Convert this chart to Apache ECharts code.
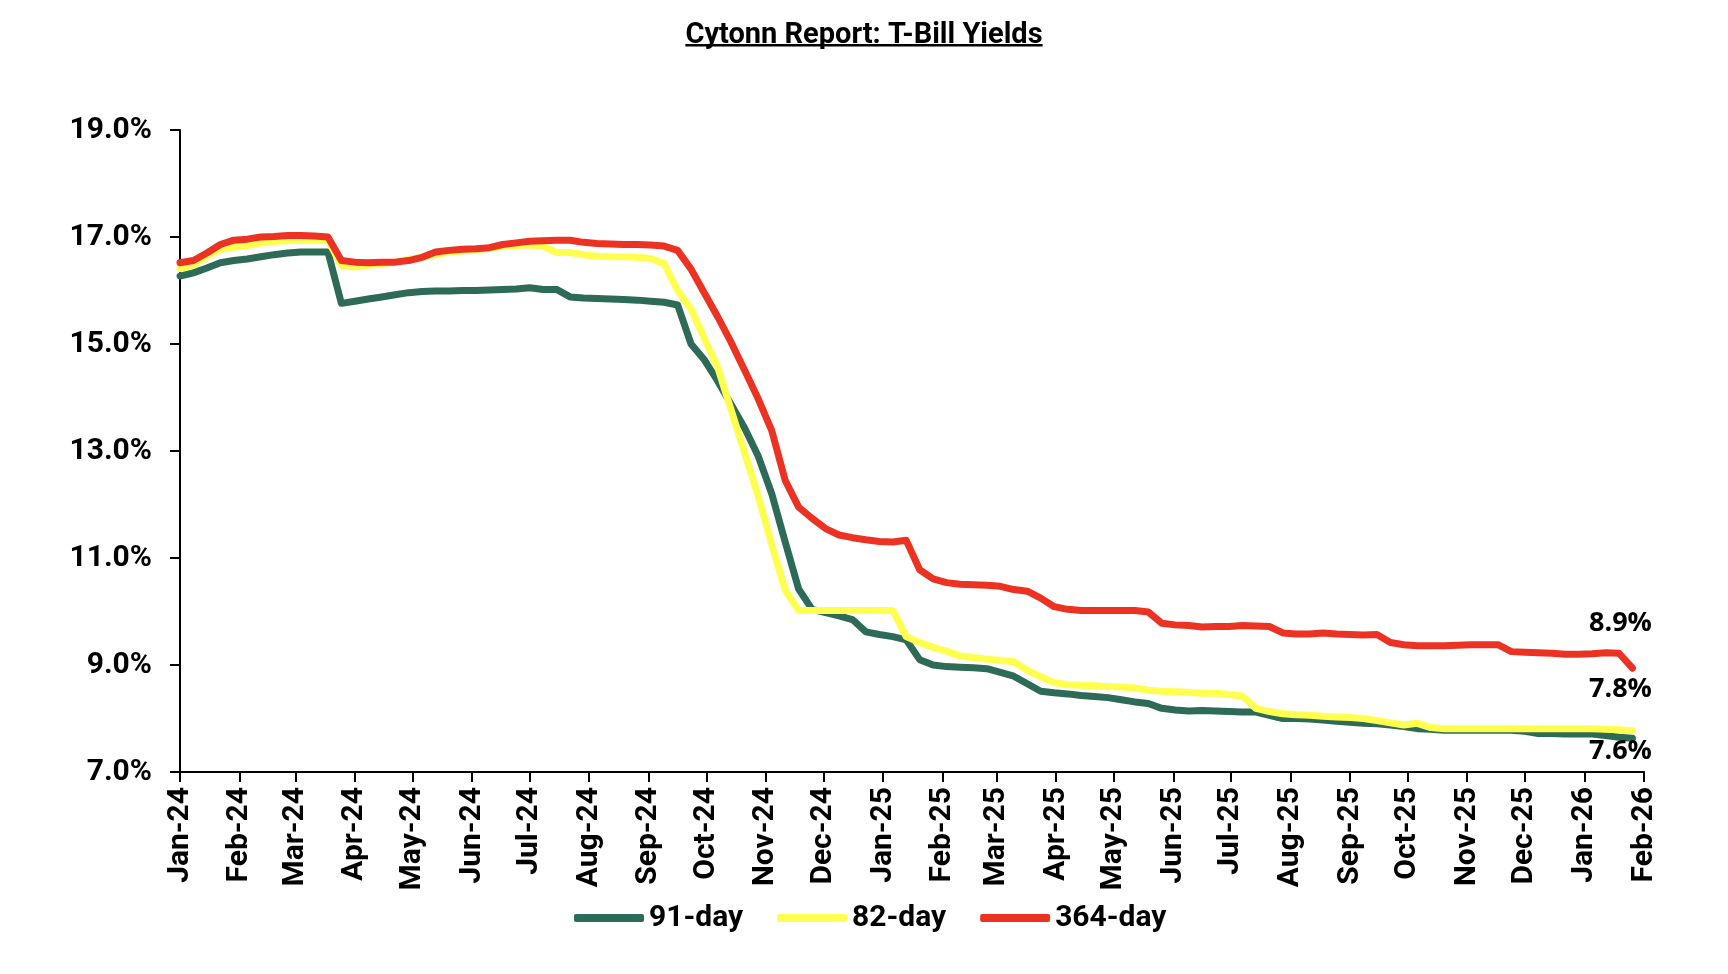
<!DOCTYPE html>
<html>
<head>
<meta charset="utf-8">
<script src="https://cdn.jsdelivr.net/npm/echarts@6/dist/echarts.min.js"></script>
<style>
html, body { margin: 0; padding: 0; background: #ffffff; }
#chart { width: 1728px; height: 974px; }
</style>
</head>
<body>
<div id="chart"></div>
<script>
// ---- Data (weekly auction results) ----
const dates = [
  '2024-01-01','2024-01-08','2024-01-15','2024-01-22','2024-01-29',
  '2024-02-05','2024-02-12','2024-02-19','2024-02-26',
  '2024-03-04','2024-03-11','2024-03-18','2024-03-25',
  '2024-04-01','2024-04-08','2024-04-15','2024-04-22','2024-04-29',
  '2024-05-06','2024-05-13','2024-05-20','2024-05-27',
  '2024-06-03','2024-06-10','2024-06-17','2024-06-24',
  '2024-07-01','2024-07-08','2024-07-15','2024-07-22','2024-07-29',
  '2024-08-05','2024-08-12','2024-08-19','2024-08-26',
  '2024-09-02','2024-09-09','2024-09-16','2024-09-23','2024-09-30',
  '2024-10-07','2024-10-14','2024-10-21','2024-10-28',
  '2024-11-04','2024-11-11','2024-11-18','2024-11-25',
  '2024-12-02','2024-12-09','2024-12-16','2024-12-23','2024-12-30',
  '2025-01-06','2025-01-13','2025-01-20','2025-01-27',
  '2025-02-03','2025-02-10','2025-02-17','2025-02-24',
  '2025-03-03','2025-03-10','2025-03-17','2025-03-24','2025-03-31',
  '2025-04-07','2025-04-14','2025-04-21','2025-04-28',
  '2025-05-05','2025-05-12','2025-05-19','2025-05-26',
  '2025-06-02','2025-06-09','2025-06-16','2025-06-23','2025-06-30',
  '2025-07-07','2025-07-14','2025-07-21','2025-07-28',
  '2025-08-04','2025-08-11','2025-08-18','2025-08-25',
  '2025-09-01','2025-09-08','2025-09-15','2025-09-22','2025-09-29',
  '2025-10-06','2025-10-13','2025-10-20','2025-10-27',
  '2025-11-03','2025-11-10','2025-11-17','2025-11-24',
  '2025-12-01','2025-12-08','2025-12-15','2025-12-22','2025-12-29',
  '2026-01-05','2026-01-12','2026-01-19','2026-01-26'
];

const yield91 = [
  16.27,16.33,16.42,16.52,16.56,16.59,16.63,16.67,16.70,16.72,
  16.72,16.72,15.76,15.80,15.84,15.88,15.92,15.96,15.98,15.99,
  15.99,16.00,16.00,16.01,16.02,16.03,16.05,16.02,16.02,15.88,
  15.86,15.85,15.84,15.83,15.82,15.80,15.78,15.73,15.00,14.70,
  14.30,13.86,13.42,12.90,12.20,11.30,10.42,10.04,9.98,9.92,
  9.85,9.62,9.57,9.53,9.47,9.10,9.00,8.97,8.96,8.95,
  8.93,8.86,8.79,8.65,8.51,8.48,8.46,8.43,8.41,8.39,
  8.35,8.31,8.28,8.19,8.16,8.14,8.15,8.14,8.13,8.12,
  8.12,8.06,8.00,8.00,7.99,7.97,7.95,7.93,7.91,7.90,
  7.88,7.85,7.81,7.80,7.78,7.78,7.78,7.78,7.78,7.78,
  7.76,7.72,7.72,7.71,7.71,7.71,7.68,7.65,7.63
];

const yield182 = [
  16.41,16.48,16.64,16.77,16.81,16.84,16.89,16.92,16.93,16.94,
  16.94,16.94,16.47,16.44,16.47,16.50,16.53,16.58,16.62,16.67,
  16.72,16.74,16.76,16.79,16.82,16.84,16.85,16.83,16.71,16.71,
  16.67,16.64,16.63,16.63,16.62,16.60,16.50,16.00,15.65,15.10,
  14.55,13.75,12.95,12.15,11.25,10.40,10.02,10.02,10.02,10.02,
  10.02,10.02,10.02,10.02,9.53,9.42,9.33,9.26,9.17,9.14,
  9.11,9.09,9.06,8.90,8.78,8.67,8.63,8.62,8.61,8.60,
  8.59,8.57,8.53,8.51,8.50,8.49,8.47,8.47,8.45,8.42,
  8.19,8.13,8.09,8.07,8.06,8.04,8.03,8.02,8.00,7.96,
  7.92,7.88,7.91,7.83,7.81,7.81,7.81,7.81,7.81,7.81,
  7.81,7.81,7.81,7.81,7.81,7.81,7.80,7.79,7.77
];

const yield364 = [
  16.52,16.56,16.70,16.86,16.94,16.96,17.00,17.01,17.03,17.03,
  17.02,17.00,16.56,16.53,16.52,16.53,16.53,16.56,16.62,16.72,
  16.75,16.77,16.78,16.80,16.86,16.89,16.92,16.93,16.94,16.94,
  16.90,16.88,16.87,16.86,16.86,16.85,16.83,16.75,16.40,15.95,
  15.50,15.02,14.50,13.97,13.38,12.45,11.95,11.74,11.55,11.43,
  11.38,11.34,11.31,11.30,11.33,10.78,10.61,10.54,10.51,10.50,
  10.49,10.47,10.41,10.38,10.25,10.09,10.04,10.02,10.02,10.02,
  10.02,10.02,9.99,9.78,9.75,9.74,9.71,9.72,9.72,9.74,
  9.73,9.72,9.60,9.58,9.58,9.60,9.58,9.57,9.56,9.57,
  9.42,9.38,9.36,9.36,9.36,9.37,9.38,9.38,9.38,9.25,
  9.24,9.23,9.22,9.20,9.20,9.21,9.23,9.22,8.94
];

const seriesNames = ['91-day', '82-day', '364-day'];
const seriesColors = ['#2d6a57', '#ffff4f', '#ec3323'];
const titleText = 'Cytonn Report: T-Bill Yields';
const monthNames = ['Jan','Feb','Mar','Apr','May','Jun','Jul','Aug','Sep','Oct','Nov','Dec'];
const axisStart = '2024-01-01';
const axisEnd = '2026-02-01';

// ---- Styles ----
const narrowFont = '"Liberation Sans Narrow", "Roboto", "Open Sans", sans-serif';
const tickFont = narrowFont;
const tickFontSize = 30;
const DAY = 86400000;

function toPairs(vals) { return vals.map((v, i) => [dates[i], v]); }

const endLabelOffsets = [[-12, 13], [-12, -41], [-12, -45]];
const allValues = [yield91, yield182, yield364];

const series = allValues.map((vals, idx) => {
  const last = vals.length - 1;
  return {
    name: seriesNames[idx],
    type: 'line',
    data: toPairs(vals),
    showSymbol: false,
    symbol: 'none',
    lineStyle: { color: seriesColors[idx], width: 7, join: 'round', cap: 'round' },
    itemStyle: { color: seriesColors[idx] },
    emphasis: { disabled: true },
    markPoint: {
      symbol: 'circle',
      symbolSize: 1,
      itemStyle: { color: 'rgba(0,0,0,0)' },
      label: {
        show: true,
        position: 'inside',
        offset: endLabelOffsets[idx],
        color: '#000',
        fontFamily: '"Open Sans", sans-serif',
        fontWeight: 'bold',
        fontSize: 27,
        formatter: (p) => Number(p.value).toFixed(1) + '%'
      },
      data: [{ coord: [dates[last], vals[last]], value: vals[last] }]
    }
  };
});

const chart = echarts.init(document.getElementById('chart'), null, { renderer: 'canvas' });

// underline width for the title, measured from the same font
const titleFontSize = 29;
const mc = document.createElement('canvas').getContext('2d');
mc.font = 'bold ' + titleFontSize + 'px ' + narrowFont;
const titleW = mc.measureText(titleText).width;

chart.setOption({
  animation: false,
  backgroundColor: '#ffffff',
  title: {
    text: titleText,
    left: 'center',
    top: 16,
    textStyle: { fontFamily: narrowFont, fontWeight: 'bold', fontSize: titleFontSize, color: '#000' }
  },
  graphic: [{
    type: 'rect',
    shape: { x: 864 - titleW / 2, y: 44, width: titleW, height: 2.5 },
    style: { fill: '#000' }
  }],
  legend: {
    data: seriesNames,
    left: 569,
    top: 898,
    itemWidth: 70,
    itemHeight: 8,
    itemGap: 34,
    icon: 'roundRect',
    textStyle: { fontFamily: narrowFont, fontWeight: 'bold', fontSize: 30, color: '#000' }
  },
  grid: { left: 180, right: 84, top: 130, bottom: 202, containLabel: false, outerBoundsMode: 'none' },
  xAxis: {
    type: 'time',
    min: axisStart,
    max: axisEnd,
    minInterval: 28 * DAY,
    maxInterval: 31 * DAY,
    splitLine: { show: false },
    axisLine: { show: true, lineStyle: { color: '#000', width: 2 } },
    axisTick: { show: true, length: 10, lineStyle: { color: '#000', width: 2 } },
    axisLabel: {
      rotate: 90,
      margin: 15,
      interval: 0,
      hideOverlap: false,
      showMinLabel: true,
      showMaxLabel: true,
      color: '#000',
      fontFamily: tickFont,
      fontWeight: 'bold',
      fontSize: tickFontSize,
      formatter: (val) => {
        const d = new Date(val);
        return monthNames[d.getMonth()] + '-' + String(d.getFullYear()).slice(2);
      }
    }
  },
  yAxis: {
    type: 'value',
    min: 7,
    max: 19,
    interval: 2,
    splitLine: { show: false },
    axisLine: { show: true, lineStyle: { color: '#000', width: 2 } },
    axisTick: { show: true, length: 10, lineStyle: { color: '#000', width: 2 } },
    axisLabel: {
      margin: 28,
      color: '#000',
      fontFamily: tickFont,
      fontWeight: 'bold',
      fontSize: tickFontSize,
      formatter: (v) => v.toFixed(1) + '%'
    }
  },
  series: series
});
</script>
</body>
</html>
